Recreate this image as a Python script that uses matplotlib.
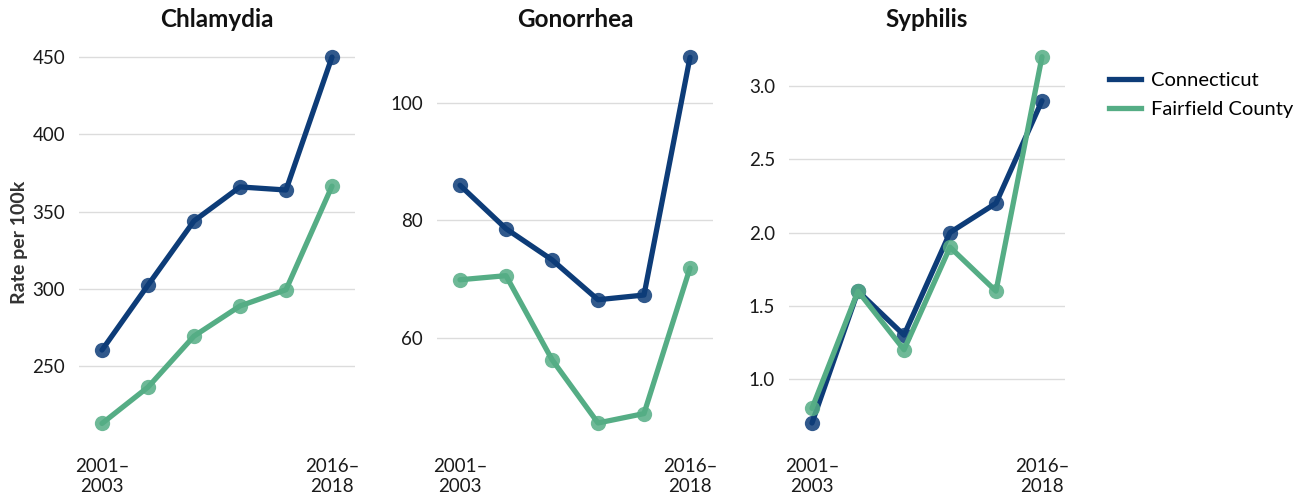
import matplotlib
matplotlib.use("Agg")
import matplotlib.pyplot as plt
from matplotlib.lines import Line2D

plt.rcParams['font.family'] = ['Lato', 'DejaVu Sans']

periods = ["2001–2003", "2004–2006", "2007–2009", "2010–2012", "2013–2015", "2016–2018"]
tick_labels = ["2001–\n2003", "2016–\n2018"]
diseases = ["Chlamydia", "Gonorrhea", "Syphilis"]
series_names = ["Connecticut", "Fairfield County"]

chlamydia_ct = [260.5, 302.5, 344, 366, 364, 450]
chlamydia_fc = [213, 236.5, 269.5, 289, 299.5, 366.5]
gonorrhea_ct = [86.0, 78.6, 73.3, 66.5, 67.3, 107.8]
gonorrhea_fc = [69.9, 70.6, 56.3, 45.5, 47.1, 71.9]
syphilis_ct = [0.7, 1.6, 1.3, 2.0, 2.2, 2.9]
syphilis_fc = [0.8, 1.6, 1.2, 1.9, 1.6, 3.2]

data = {
    "Chlamydia": (chlamydia_ct, chlamydia_fc),
    "Gonorrhea": (gonorrhea_ct, gonorrhea_fc),
    "Syphilis": (syphilis_ct, syphilis_fc),
}
yticks = {
    "Chlamydia": [250, 300, 350, 400, 450],
    "Gonorrhea": [60, 80, 100],
    "Syphilis": [1.0, 1.5, 2.0, 2.5, 3.0],
}
ylims = {
    "Chlamydia": (202.3, 457.8),
    "Gonorrhea": (42.6, 109.9),
    "Syphilis": (0.584, 3.28),
}
ytickfmt = {
    "Chlamydia": "{:.0f}",
    "Gonorrhea": "{:.0f}",
    "Syphilis": "{:.1f}",
}

colors = ["#0d3c78", "#55ad85"]

W, H = 1307, 495
fig = plt.figure(figsize=(W / 100, H / 100), dpi=100)

lefts = [79, 437, 789]
ax_w = 276
top_px, bot_px = 45, 440

x = list(range(len(periods)))
for i, d in enumerate(diseases):
    ax = fig.add_axes([lefts[i] / W, 1 - bot_px / H, ax_w / W, (bot_px - top_px) / H])
    for s, vals in enumerate(data[d]):
        ax.plot(x, vals, color=colors[s], lw=3.8, solid_capstyle='round', zorder=3 + s)
        ax.plot(x, vals, 'o', color=colors[s], ms=11, alpha=0.85, zorder=3 + s, mec='none')
    ax.set_xlim(-0.5, 5.5)
    ax.set_ylim(*ylims[d])
    ax.set_yticks(yticks[d])
    ax.set_yticklabels([ytickfmt[d].format(v) for v in yticks[d]])
    ax.set_xticks([0, 5])
    ax.set_xticklabels(tick_labels)
    ax.tick_params(axis='both', length=0, labelsize=13.5, colors='#1a1a1a')
    ax.tick_params(axis='y', pad=10)
    ax.tick_params(axis='x', pad=13)
    ax.grid(axis='y', color='#dcdcdc', lw=1)
    ax.set_axisbelow(True)
    for sp in ax.spines.values():
        sp.set_visible(False)
    ax.set_title(d, fontsize=17.5, fontweight='bold', pad=13, color='#111111')
    if i == 0:
        ax.set_ylabel("Rate per 100k", fontsize=14, fontweight='bold', color='#333333', labelpad=3)

handles = [Line2D([0], [0], color=c, lw=3.8) for c in colors]
fig.legend(handles, series_names, loc='upper left', bbox_to_anchor=(1091 / W, 1 - 54 / H),
           frameon=False, fontsize=14.5, handlelength=1.6, handletextpad=0.5, labelspacing=0.6)

fig.savefig("out.png", dpi=100)
